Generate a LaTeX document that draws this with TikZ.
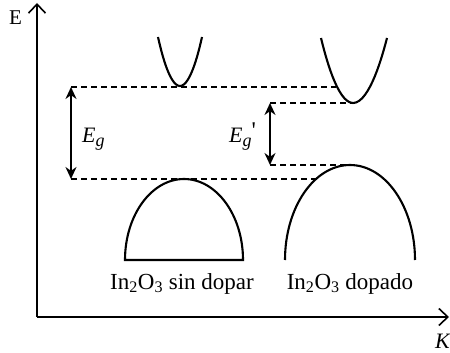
\documentclass[tikz,border=0pt]{standalone}
\usepackage{fontspec}
\setmainfont{Liberation Serif}
\usetikzlibrary{arrows.meta}
\begin{document}
\begin{tikzpicture}[x=1pt,y=-1pt,
  axis/.style={line width=1.8pt,-{Straight Barb[length=9pt,width=17pt,line width=1.6pt]}},
  band/.style={line width=2.1pt},
  lvl/.style={line width=1.6pt,dash pattern=on 6pt off 4pt},
  gap/.style={line width=1.8pt,{Stealth[length=12pt,width=11pt]}-{Stealth[length=12pt,width=11pt]}},
  lbl/.style={font=\fontsize{23}{26}\selectfont, inner sep=0pt},
  axlbl/.style={font=\fontsize{21}{23}\selectfont, inner sep=0pt},
  glbl/.style={font=\fontsize{22}{24}\selectfont\itshape, inner sep=0pt}]
\useasboundingbox (0,0) rectangle (450,353);
% axes
\coordinate (O) at (37,317);
\coordinate (Ytop) at (37,3);
\coordinate (Xend) at (449,317);
\draw[axis] (O) -- (Ytop);
\draw[axis] (O) -- (Xend);
\node[axlbl,anchor=base west] (E) at (9,25) {E};
\node[glbl,anchor=base west] (K) at (435,348) {K};
% conduction bands
\draw[band] (158,37) parabola bend (180,86) (202,37);
\draw[band] (321,38) parabola bend (353,103) (387,38);
% valence bands
\draw[band] (125,260) arc[start angle=180,end angle=0,x radius=59pt,y radius=81pt] -- cycle;
\draw[band] (285,260) arc[start angle=180,end angle=0,x radius=65pt,y radius=95pt];
% levels
\coordinate (g1t) at (71,87);
\coordinate (g1b) at (71,179);
\coordinate (c1r) at (336,87);
\coordinate (v1r) at (316,179);
\coordinate (g2t) at (270,103);
\coordinate (g2b) at (270,165);
\coordinate (c2r) at (353,103);
\coordinate (v2r) at (350,165);
\draw[lvl] (g1t) -- (c1r);
\draw[lvl] (g1b) -- (v1r);
\draw[lvl] (g2t) -- (c2r);
\draw[lvl] (g2b) -- (v2r);
\draw[gap] (g1t) -- (g1b);
\draw[gap] (g2t) -- (g2b);
\node[glbl,anchor=base west] (Eg) at (82,142) {E\raisebox{-5pt}{\fontsize{18}{20}\selectfont g}};
\node[glbl,anchor=base west] (Egp) at (229,142) {E\raisebox{-5pt}{\fontsize{18}{20}\selectfont g}\raisebox{3pt}{\upshape\fontsize{24}{26}\selectfont\textquotesingle}};
% labels
\node[lbl,anchor=base] (L1) at (182,289) {In\textsubscript{2}O\textsubscript{3} sin dopar};
\node[lbl,anchor=base] (L2) at (350,289) {In\textsubscript{2}O\textsubscript{3} dopado};
\end{tikzpicture}
\end{document}
